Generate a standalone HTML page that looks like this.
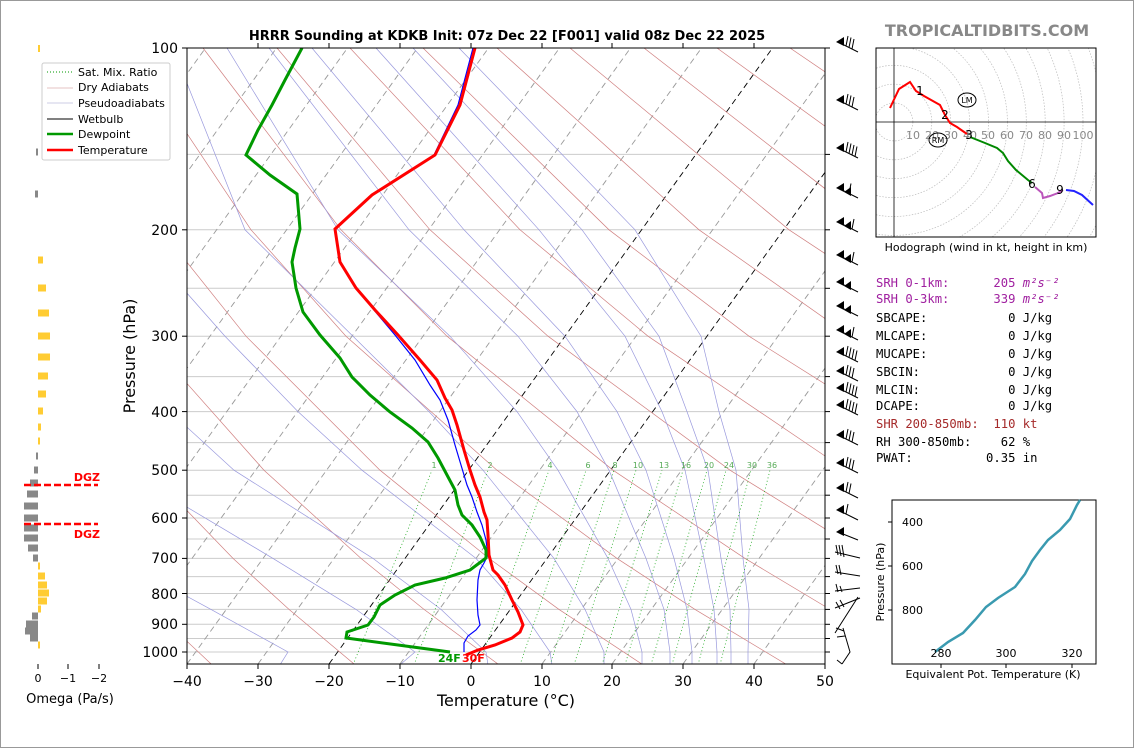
<!DOCTYPE html>
<html><head><meta charset="utf-8"><style>
html,body{margin:0;padding:0;background:#fff}
svg{display:block}
text{font-family:"DejaVu Sans","Liberation Sans",sans-serif}
text.m{font-family:"DejaVu Sans Mono","Liberation Mono",monospace;font-size:12.2px}
</style></head><body>
<svg width="1134" height="748" viewBox="0 0 1134 748" xmlns="http://www.w3.org/2000/svg">
<rect x="0.5" y="0.5" width="1133" height="747" fill="#fff" stroke="#999"/>
<defs>
<clipPath id="cp"><rect x="187" y="48" width="638" height="616"/></clipPath>
<clipPath id="hcp"><rect x="876" y="48" width="220" height="189"/></clipPath>
</defs>
<g clip-path="url(#cp)">
<g stroke="#ccc" stroke-width="1">
<line x1="187" x2="825" y1="154.4" y2="154.4"/><line x1="187" x2="825" y1="229.8" y2="229.8"/>
<line x1="187" x2="825" y1="288.3" y2="288.3"/><line x1="187" x2="825" y1="336.2" y2="336.2"/>
<line x1="187" x2="825" y1="376.6" y2="376.6"/><line x1="187" x2="825" y1="411.6" y2="411.6"/>
<line x1="187" x2="825" y1="442.6" y2="442.6"/><line x1="187" x2="825" y1="470.2" y2="470.2"/>
<line x1="187" x2="825" y1="495.2" y2="495.2"/><line x1="187" x2="825" y1="518" y2="518"/>
<line x1="187" x2="825" y1="539" y2="539"/><line x1="187" x2="825" y1="558.4" y2="558.4"/>
<line x1="187" x2="825" y1="576.6" y2="576.6"/><line x1="187" x2="825" y1="593.5" y2="593.5"/>
<line x1="187" x2="825" y1="609.4" y2="609.4"/><line x1="187" x2="825" y1="624.3" y2="624.3"/>
<line x1="187" x2="825" y1="638.5" y2="638.5"/><line x1="187" x2="825" y1="652" y2="652"/>
</g>
<g stroke="#999" stroke-width="0.9" stroke-dasharray="6,4">
<line x1="-238" y1="664" x2="205.5" y2="48"/><line x1="-167" y1="664" x2="276.5" y2="48"/>
<line x1="-96" y1="664" x2="347.5" y2="48"/><line x1="-26" y1="664" x2="417.5" y2="48"/>
<line x1="45" y1="664" x2="488.5" y2="48"/><line x1="116" y1="664" x2="559.5" y2="48"/>
<line x1="187" y1="664" x2="630.5" y2="48"/><line x1="258" y1="664" x2="701.5" y2="48"/>
<line x1="400" y1="664" x2="843.5" y2="48"/><line x1="542" y1="664" x2="985.5" y2="48"/>
<line x1="612" y1="664" x2="1055.5" y2="48"/><line x1="683" y1="664" x2="1126.5" y2="48"/>
<line x1="754" y1="664" x2="1197.5" y2="48"/>
</g>
<g stroke="#000" stroke-width="0.9" stroke-dasharray="6,4">
<line x1="329" y1="664" x2="772.5" y2="48"/><line x1="471" y1="664" x2="914.5" y2="48"/>
</g>
<!-- dry adiabats -->
<g fill="none" stroke="#d08080" stroke-width="0.7">
<polyline points="212,664.8 153,609.4 105,558.4 31,470.2 -56,336.2 -108,229.8 -164,48"/>
<polyline points="355,664.8 289,609.4 233,558.4 148,470.2 45,336.2 -18,229.8 -90,48"/>
<polyline points="499,664.8 424,609.4 361,558.4 264,470.2 145,336.2 72,229.8 -17,48"/>
<polyline points="643,664.8 559,609.4 489,558.4 380,470.2 246,336.2 161,229.8 56,48"/>
<polyline points="787,664.8 695,609.4 617,558.4 497,470.2 346,336.2 251,229.8 130,48"/>
<polyline points="931,664.8 830,609.4 745,558.4 613,470.2 447,336.2 341,229.8 203,48"/>
<polyline points="1075,664.8 966,609.4 873,558.4 730,470.2 548,336.2 430,229.8 277,48"/>
<polyline points="1218,664.8 1101,609.4 1001,558.4 846,470.2 648,336.2 520,229.8 350,48"/>
<polyline points="1362,664.8 1236,609.4 1129,558.4 962,470.2 749,336.2 609,229.8 423,48"/>
<polyline points="1506,664.8 1372,609.4 1257,558.4 1079,470.2 850,336.2 699,229.8 497,48"/>
<polyline points="1650,664.8 1507,609.4 1385,558.4 1195,470.2 950,336.2 789,229.8 570,48"/>
<polyline points="1794,664.8 1643,609.4 1513,558.4 1312,470.2 1051,336.2 878,229.8 644,48"/>
<polyline points="1938,664.8 1778,609.4 1641,558.4 1428,470.2 1152,336.2 968,229.8 717,48"/>
<polyline points="2082,664.8 1913,609.4 1769,558.4 1544,470.2 1252,336.2 1057,229.8 790,48"/>
</g>
<!-- moist adiabats: y 664.8,652,609.4,558.4,470.2,411.6,336.2,229.8,48 -->
<g fill="none" stroke="#9999dd" stroke-width="0.7">
<polyline points="748,664.8 748,652 749,609.4 743,558.4 736,470.2 719,411.6 701,336.2 635,229.8 459,48"/>
<polyline points="731,664.8 731,652 730,609.4 721,558.4 708,470.2 687,411.6 659,336.2 582,229.8 413,48"/>
<polyline points="717,664.8 717,652 714,609.4 704,558.4 685,470.2 662,411.6 625,336.2 539,229.8 376,48"/>
<polyline points="692,664.8 692,652 687,609.4 674,558.4 646,470.2 617,411.6 565,336.2 464,229.8 312,48"/>
<polyline points="670,664.8 670,652 664,609.4 646,558.4 609,470.2 577,411.6 518,336.2 409,229.8 269,48"/>
<polyline points="642,664.8 642,652 631,609.4 608,558.4 558,470.2 517,411.6 450,336.2 338,229.8 227,48"/>
<polyline points="604,664.8 604,652 585,609.4 554,558.4 483,470.2 429,411.6 353,336.2 245,229.8 173,48"/>
<polyline points="552,664.8 550,652 521,609.4 476,558.4 362,470.2 298,411.6 225,336.2 131,229.8 80,48"/>
<polyline points="488,664.8 486,652 441,609.4 373,558.4 234,470.2 170,411.6 100,336.2"/>
<polyline points="400,664.8 415,652 356,609.4 273,558.4 125,470.2"/>
<polyline points="280,664.8 288,652 211,609.4 117,558.4"/>
</g>
<g fill="none" stroke="#2a2" stroke-width="0.8" stroke-dasharray="1,2.5">
<line x1="353" y1="664.8" x2="432" y2="470.2"/><line x1="414" y1="664.8" x2="488" y2="470.2"/>
<line x1="479" y1="664.8" x2="549" y2="470.2"/><line x1="520" y1="664.8" x2="586" y2="470.2"/>
<line x1="550" y1="664.8" x2="614" y2="470.2"/><line x1="574" y1="664.8" x2="636" y2="470.2"/>
<line x1="602" y1="664.8" x2="662" y2="470.2"/><line x1="625" y1="664.8" x2="683" y2="470.2"/>
<line x1="651" y1="664.8" x2="707" y2="470.2"/><line x1="672" y1="664.8" x2="726" y2="470.2"/>
<line x1="698" y1="664.8" x2="751" y2="470.2"/><line x1="720" y1="664.8" x2="770" y2="470.2"/>
</g>
<g font-size="8" fill="#5a5" text-anchor="middle">
<text x="434" y="468">1</text><text x="490" y="468">2</text><text x="550" y="468">4</text><text x="588" y="468">6</text><text x="615" y="468">8</text><text x="638" y="468">10</text><text x="664" y="468">13</text><text x="686" y="468">16</text><text x="709" y="468">20</text><text x="729" y="468">24</text><text x="752" y="468">30</text><text x="772" y="468">36</text>
</g>
<polyline fill="none" stroke="#00f" stroke-width="1.2" points="473,48 458,105 434,155 372,195 335,229 340,262 356,288 374,310 395,335 415,360 430,385 440,400 448,420 455,445 461,465 467,485 472,497 477,512 482,525 486,540 488,555 484,563 480,570 478,580 477,600 478,615 480,625 476,630 468,636 464,643 464,652"/>
<polyline fill="none" stroke="#f00" stroke-width="3" points="475,48 460,105 435,155 372,195 335,229 340,262 356,288 375,310 398,335 420,360 437,380 445,398 452,410 457,425 464,450 470,470 475,485 480,497 484,512 487,520 488,535 489,555 493,570 498,575 505,585 512,600 518,612 523,625 520,632 512,638 495,645 478,650 466,655"/>
<polyline fill="none" stroke="#090" stroke-width="3" points="302,48 285,80 272,105 258,130 246,155 270,175 297,194 300,229 295,248 292,262 296,288 303,312 320,335 340,358 352,377 370,395 390,412 412,428 428,442 438,458 447,475 455,490 458,505 462,515 472,525 480,537 486,550 486,558 478,564 470,570 445,578 415,585 395,595 380,605 374,617 368,625 347,632 346,638 398,645 450,652"/>
</g>
<text x="438" y="662" font-size="11" font-weight="bold" fill="#090">24F</text>
<text x="462" y="662" font-size="11" font-weight="bold" fill="#f00">30F</text>
<rect x="187" y="48" width="638" height="616" fill="none" stroke="#000" stroke-width="1"/>
<g stroke="#000">
<line x1="182" x2="187" y1="48" y2="48"/><line x1="182" x2="187" y1="229.8" y2="229.8"/><line x1="182" x2="187" y1="336.2" y2="336.2"/><line x1="182" x2="187" y1="411.6" y2="411.6"/><line x1="182" x2="187" y1="470.2" y2="470.2"/><line x1="182" x2="187" y1="518" y2="518"/><line x1="182" x2="187" y1="558.4" y2="558.4"/><line x1="182" x2="187" y1="593.5" y2="593.5"/><line x1="182" x2="187" y1="624.3" y2="624.3"/><line x1="182" x2="187" y1="652" y2="652"/>
<line x1="825" x2="830" y1="48" y2="48"/><line x1="825" x2="830" y1="154.4" y2="154.4"/><line x1="825" x2="830" y1="229.8" y2="229.8"/><line x1="825" x2="830" y1="288.3" y2="288.3"/><line x1="825" x2="830" y1="336.2" y2="336.2"/><line x1="825" x2="830" y1="376.6" y2="376.6"/><line x1="825" x2="830" y1="411.6" y2="411.6"/><line x1="825" x2="830" y1="442.6" y2="442.6"/><line x1="825" x2="830" y1="470.2" y2="470.2"/><line x1="825" x2="830" y1="495.2" y2="495.2"/><line x1="825" x2="830" y1="518" y2="518"/><line x1="825" x2="830" y1="539" y2="539"/><line x1="825" x2="830" y1="558.4" y2="558.4"/><line x1="825" x2="830" y1="576.6" y2="576.6"/><line x1="825" x2="830" y1="593.5" y2="593.5"/><line x1="825" x2="830" y1="609.4" y2="609.4"/><line x1="825" x2="830" y1="624.3" y2="624.3"/><line x1="825" x2="830" y1="638.5" y2="638.5"/><line x1="825" x2="830" y1="652" y2="652"/>
<line x1="187" x2="187" y1="664" y2="669"/><line x1="258" x2="258" y1="664" y2="669"/><line x1="329" x2="329" y1="664" y2="669"/><line x1="400" x2="400" y1="664" y2="669"/><line x1="471" x2="471" y1="664" y2="669"/><line x1="542" x2="542" y1="664" y2="669"/><line x1="612" x2="612" y1="664" y2="669"/><line x1="683" x2="683" y1="664" y2="669"/><line x1="754" x2="754" y1="664" y2="669"/><line x1="825" x2="825" y1="664" y2="669"/>
<line x1="258" x2="258" y1="48" y2="43"/><line x1="329" x2="329" y1="48" y2="43"/><line x1="400" x2="400" y1="48" y2="43"/><line x1="471" x2="471" y1="48" y2="43"/><line x1="542" x2="542" y1="48" y2="43"/><line x1="612" x2="612" y1="48" y2="43"/><line x1="683" x2="683" y1="48" y2="43"/><line x1="754" x2="754" y1="48" y2="43"/>
</g>
<g font-size="14" text-anchor="end">
<text x="178" y="53">100</text><text x="178" y="235">200</text><text x="178" y="341">300</text><text x="178" y="417">400</text><text x="178" y="475">500</text><text x="178" y="523">600</text><text x="178" y="563">700</text><text x="178" y="599">800</text><text x="178" y="629">900</text><text x="178" y="657">1000</text>
</g>
<g font-size="14" text-anchor="middle">
<text x="187" y="686">−40</text><text x="258" y="686">−30</text><text x="329" y="686">−20</text><text x="400" y="686">−10</text><text x="471" y="686">0</text><text x="542" y="686">10</text><text x="612" y="686">20</text><text x="683" y="686">30</text><text x="754" y="686">40</text><text x="825" y="686">50</text>
</g>
<text x="507" y="40" font-size="13" font-weight="bold" text-anchor="middle">HRRR Sounding at KDKB Init: 07z Dec 22 [F001] valid 08z Dec 22 2025</text>
<text x="506" y="706" font-size="16" text-anchor="middle">Temperature (°C)</text>
<text transform="translate(135,356) rotate(-90)" font-size="16" text-anchor="middle">Pressure (hPa)</text>
<rect x="42" y="63" width="128" height="97" fill="#fff" stroke="#ccc" rx="2"/>
<g font-size="11">
<line x1="47" y1="72" x2="73" y2="72" stroke="#090" stroke-dasharray="1,2"/><text x="78" y="76">Sat. Mix. Ratio</text>
<line x1="47" y1="88" x2="73" y2="88" stroke="#c88" stroke-width="0.6"/><text x="78" y="91">Dry Adiabats</text>
<line x1="47" y1="103" x2="73" y2="103" stroke="#99c" stroke-width="0.6"/><text x="78" y="107">Pseudoadiabats</text>
<line x1="47" y1="119" x2="73" y2="119" stroke="#000"/><text x="78" y="123">Wetbulb</text>
<line x1="47" y1="134" x2="73" y2="134" stroke="#090" stroke-width="2.5"/><text x="78" y="138">Dewpoint</text>
<line x1="47" y1="150" x2="73" y2="150" stroke="#f00" stroke-width="2.5"/><text x="78" y="154">Temperature</text>
</g>
<g fill="#fc3">
<rect x="38" y="45" width="2" height="7"/><rect x="38" y="256.5" width="5" height="7"/><rect x="38" y="284.5" width="8" height="7"/><rect x="38" y="309.5" width="11" height="7"/><rect x="38" y="332.5" width="12" height="7"/><rect x="38" y="353.5" width="12" height="7"/><rect x="38" y="372.5" width="10" height="7"/><rect x="38" y="390.5" width="8" height="7"/><rect x="38" y="407.5" width="5" height="7"/><rect x="38" y="423.5" width="3" height="7"/><rect x="38" y="437.5" width="2" height="7"/>
<rect x="38" y="562.5" width="2" height="7"/><rect x="38" y="572.5" width="7" height="7"/><rect x="38" y="581.5" width="9" height="7"/><rect x="38" y="589.5" width="11" height="7"/><rect x="38" y="597.5" width="9" height="7"/><rect x="38" y="605.5" width="3" height="7"/><rect x="38" y="641.5" width="2" height="7"/>
</g>
<g fill="#888">
<rect x="36" y="148.5" width="2" height="7"/><rect x="35" y="190.5" width="3" height="7"/><rect x="36" y="452.5" width="2" height="7"/><rect x="34" y="466.5" width="4" height="7"/><rect x="30" y="479.5" width="8" height="7"/><rect x="27" y="490.5" width="11" height="7"/><rect x="24" y="502.5" width="14" height="7"/><rect x="24" y="514.5" width="14" height="7"/><rect x="24" y="524.5" width="14" height="7"/><rect x="24" y="534.5" width="14" height="7"/><rect x="28" y="544.5" width="10" height="7"/><rect x="33" y="554.5" width="5" height="7"/>
<rect x="32" y="612.5" width="6" height="7"/><rect x="26" y="620.5" width="12" height="7"/><rect x="25" y="627.5" width="13" height="7"/><rect x="30" y="634.5" width="8" height="7"/>
</g>
<line x1="24" y1="485" x2="98" y2="485" stroke="#f00" stroke-width="2.5" stroke-dasharray="7,3"/>
<line x1="24" y1="524" x2="98" y2="524" stroke="#f00" stroke-width="2.5" stroke-dasharray="7,3"/>
<text x="100" y="481" font-size="11" font-weight="bold" fill="#f00" text-anchor="end">DGZ</text>
<text x="100" y="538" font-size="11" font-weight="bold" fill="#f00" text-anchor="end">DGZ</text>
<g font-size="11" text-anchor="middle">
<line x1="38" y1="664" x2="38" y2="669" stroke="#000"/><text x="38" y="682">0</text>
<line x1="68" y1="664" x2="68" y2="669" stroke="#000"/><text x="68" y="682">−1</text>
<line x1="99" y1="664" x2="99" y2="669" stroke="#000"/><text x="99" y="682">−2</text>
</g>
<text x="70" y="703" font-size="13" text-anchor="middle">Omega (Pa/s)</text>
<!-- barbs -->
<g stroke="#000" stroke-width="1" fill="none">
<path d="M838,42 L858,52 M846,46 L848,36 M849,47.5 L851,37.5 M852,49 L854,39"/>
<path d="M838,100 L858,110 M846,104 L848,94 M849,105.5 L851,95.5 M852,107 L854,97"/>
<path d="M838,148 L858,158 M846,152 L848,142 M849,153.5 L851,143.5 M852,155 L854,145 M855,156.5 L857,146.5"/>
<path d="M838,188 L858,198 M849,193.5 L851,183.5"/>
<path d="M838,222 L858,232 M852,229 L854,219"/>
<path d="M838,255 L858,265 M852,262 L854,252"/>
<path d="M838,282 L858,292"/>
<path d="M838,306 L858,316"/>
<path d="M838,330 L858,340 M852,337 L854,327"/>
<path d="M838,352 L858,362 M846,356 L848,346 M849,357.5 L851,347.5 M852,359 L854,349 M855,360.5 L857,350.5"/>
<path d="M838,371 L858,381 M846,375 L848,365 M849,376.5 L851,366.5 M852,378 L854,368"/>
<path d="M838,388 L858,398 M846,392 L848,382 M849,393.5 L851,383.5 M852,395 L854,385 M855,396.5 L857,386.5"/>
<path d="M838,405 L858,415 M846,409 L848,399 M849,410.5 L851,400.5 M852,412 L854,402 M855,413.5 L857,403.5"/>
<path d="M838,435 L858,445 M846,439 L848,429 M849,440.5 L851,430.5 M852,442 L854,432"/>
<path d="M838,463 L858,473 M846,467 L848,457 M849,468.5 L851,458.5 M852,470 L854,460"/>
<path d="M838,488 L858,498 M846,492 L848,482 M849,493.5 L851,483.5"/>
<path d="M838,510 L858,520 M846,514 L848,504"/>
<path d="M838,532 L858,540"/>
<path d="M835,552 L860,558 M836,545 L838,555 M839,545 L841,556 M842,545 L844,557"/>
<path d="M835,572 L860,576 M836,565 L838,574 M839,565 L841,575"/>
<path d="M835,591 L860,588 M836,584 L838,592 M840,586 L842,592"/>
<path d="M835,608 L860,598 M836,602 L840,609 M840,600 L844,607"/>
<path d="M835,633 L858,597 M836,628 L844,631 M837,637 L845,636"/>
<path d="M842,664 L850,652 L843,628 M837,660 L842,664"/>
</g>
<g fill="#000">
<polygon points="836,42 844,37 844,46"/><polygon points="836,100 844,95 844,104"/><polygon points="836,148 844,143 844,152"/>
<polygon points="836,188 844,183 844,192"/><polygon points="844,192 851,187 851,196"/>
<polygon points="836,222 844,217 844,226"/><polygon points="844,226 851,221 851,230"/>
<polygon points="836,255 844,250 844,259"/><polygon points="844,259 851,254 851,263"/>
<polygon points="836,282 844,277 844,286"/><polygon points="844,286 851,281 851,290"/>
<polygon points="836,306 844,301 844,310"/><polygon points="844,310 851,305 851,314"/>
<polygon points="836,330 844,325 844,334"/><polygon points="844,334 851,329 851,338"/>
<polygon points="836,352 844,347 844,356"/><polygon points="836,371 844,366 844,375"/><polygon points="836,388 844,383 844,392"/><polygon points="836,405 844,400 844,409"/><polygon points="836,435 844,430 844,439"/><polygon points="836,463 844,458 844,467"/><polygon points="836,488 844,483 844,492"/><polygon points="836,510 844,505 844,514"/><polygon points="836,532 844,527 844,536"/>
</g>
<text x="987" y="36" font-size="16" font-weight="bold" fill="#888" text-anchor="middle">TROPICALTIDBITS.COM</text>
<g clip-path="url(#hcp)" fill="none" stroke="#bbb" stroke-width="0.7" stroke-dasharray="1.5,1.5">
<circle cx="894" cy="122" r="18.9"/><circle cx="894" cy="122" r="37.8"/><circle cx="894" cy="122" r="56.7"/><circle cx="894" cy="122" r="75.6"/><circle cx="894" cy="122" r="94.5"/><circle cx="894" cy="122" r="113.4"/><circle cx="894" cy="122" r="132.3"/><circle cx="894" cy="122" r="151.2"/><circle cx="894" cy="122" r="170.1"/><circle cx="894" cy="122" r="189"/><circle cx="894" cy="122" r="207.9"/><circle cx="894" cy="122" r="226.8"/>
</g>
<line x1="876" x2="1096" y1="122" y2="122" stroke="#000" stroke-width="0.8"/>
<line x1="894" x2="894" y1="48" y2="237" stroke="#000" stroke-width="0.8"/>
<g font-size="11" fill="#888" text-anchor="middle">
<text x="913" y="139">10</text><text x="932" y="139">20</text><text x="951" y="139">30</text><text x="970" y="139">40</text><text x="988" y="139">50</text><text x="1007" y="139">60</text><text x="1026" y="139">70</text><text x="1045" y="139">80</text><text x="1064" y="139">90</text><text x="1083" y="139">100</text>
</g>
<g fill="none" stroke-width="2">
<polyline stroke="#f00" points="890,108 899,89 910,82 916,91 924,96 940,105 945,115 950,123 957,127 967,134"/>
<polyline stroke="#080" points="970,137 985,143 997,148 1003,153 1008,161 1016,170 1028,180 1032,183"/>
<polyline stroke="#b5b" points="1035,187 1042,193 1043,198 1050,196 1058,193 1063,190"/>
<polyline stroke="#22f" points="1066,190 1074,191 1082,195 1093,205"/>
</g>
<g font-size="12" text-anchor="middle">
<text x="920" y="95">1</text><text x="945" y="119">2</text><text x="969" y="139">3</text><text x="1032" y="188">6</text><text x="1060" y="194">9</text>
</g>
<ellipse cx="967" cy="100" rx="9" ry="7" fill="none" stroke="#000"/><text x="967" y="103" font-size="8" text-anchor="middle">LM</text>
<ellipse cx="938" cy="140" rx="9" ry="7" fill="none" stroke="#000"/><text x="938" y="143" font-size="8" text-anchor="middle">RM</text>
<rect x="876" y="48" width="220" height="189" fill="none" stroke="#000"/>
<text x="986" y="251" font-size="11" text-anchor="middle">Hodograph (wind in kt, height in km)</text>
<text class="m" x="876" y="287" fill="#a020a0" xml:space="preserve">SRH 0-1km:      205 <tspan font-style="italic">m²s⁻²</tspan></text>
<text class="m" x="876" y="303" fill="#a020a0" xml:space="preserve">SRH 0-3km:      339 <tspan font-style="italic">m²s⁻²</tspan></text>
<text class="m" x="876" y="322" xml:space="preserve">SBCAPE:           0 J/kg</text>
<text class="m" x="876" y="340" xml:space="preserve">MLCAPE:           0 J/kg</text>
<text class="m" x="876" y="358" xml:space="preserve">MUCAPE:           0 J/kg</text>
<text class="m" x="876" y="376" xml:space="preserve">SBCIN:            0 J/kg</text>
<text class="m" x="876" y="394" xml:space="preserve">MLCIN:            0 J/kg</text>
<text class="m" x="876" y="410" xml:space="preserve">DCAPE:            0 J/kg</text>
<text class="m" x="876" y="428" fill="#a52a2a" xml:space="preserve">SHR 200-850mb:  110 kt</text>
<text class="m" x="876" y="446" xml:space="preserve">RH 300-850mb:    62 %</text>
<text class="m" x="876" y="462" xml:space="preserve">PWAT:          0.35 in</text>
<rect x="892" y="500" width="204" height="164" fill="none" stroke="#000"/>
<polyline fill="none" stroke="#3a9ab0" stroke-width="2.5" points="935,652 948,642 963,633 975,620 986,607 998,598 1015,587 1025,574 1032,561 1040,550 1048,540 1060,530 1070,519 1077,505 1080,500"/>
<g font-size="11">
<line x1="888" y1="522" x2="892" y2="522" stroke="#000"/><text x="902" y="526">400</text>
<line x1="888" y1="566" x2="892" y2="566" stroke="#000"/><text x="902" y="570">600</text>
<line x1="888" y1="610" x2="892" y2="610" stroke="#000"/><text x="902" y="614">800</text>
<line x1="941" y1="664" x2="941" y2="668" stroke="#000"/><text x="941" y="657" text-anchor="middle">280</text>
<line x1="1006" y1="664" x2="1006" y2="668" stroke="#000"/><text x="1006" y="657" text-anchor="middle">300</text>
<line x1="1072" y1="664" x2="1072" y2="668" stroke="#000"/><text x="1072" y="657" text-anchor="middle">320</text>
<text x="993" y="678" text-anchor="middle">Equivalent Pot. Temperature (K)</text>
<text transform="translate(884,582) rotate(-90)" text-anchor="middle">Pressure (hPa)</text>
</g>
</svg>
</body></html>
